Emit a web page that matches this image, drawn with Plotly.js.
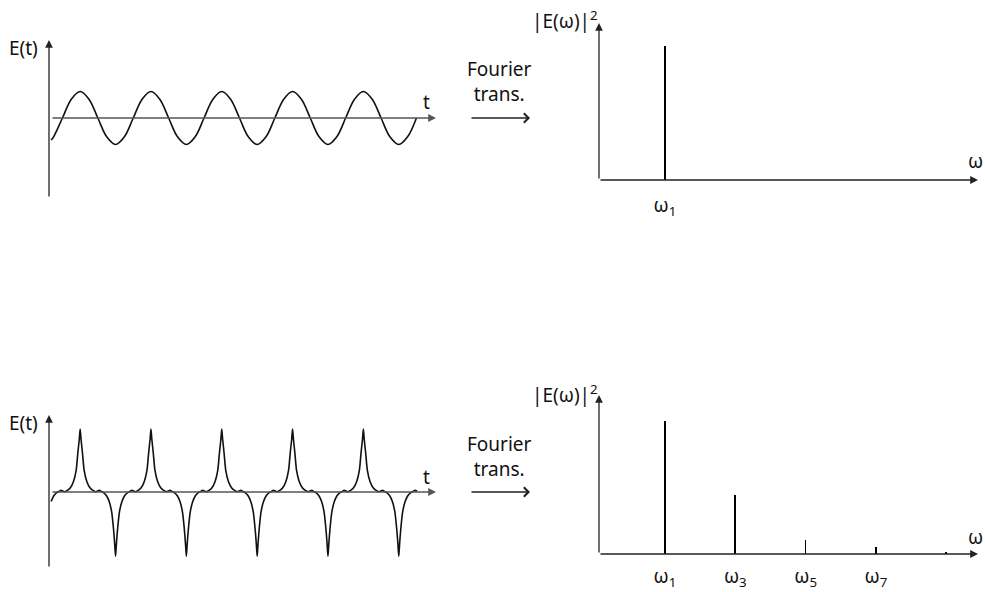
<!DOCTYPE html>
<html>
<head>
<meta charset="utf-8">
<script src="https://cdn.plot.ly/plotly-3.0.1.min.js"></script>
<style>html,body{margin:0;padding:0;background:#fff;}#chart{width:985px;height:592px;}</style>
</head>
<body>
<div id="chart"></div>
<script>
// ---------- DATA ----------
// time in periods of the fundamental, E in units of the pure-sine amplitude
const tSine = [0.03,0.065,0.19,0.315,0.44,0.565,0.69,0.815,0.94,
  1.065,1.19,1.315,1.44,1.565,1.69,1.815,1.94,
  2.065,2.19,2.315,2.44,2.565,2.69,2.815,2.94,
  3.065,3.19,3.315,3.44,3.565,3.69,3.815,3.94,
  4.065,4.19,4.315,4.44,4.565,4.69,4.815,4.94,
  5.065,5.19];
const eSine = [-0.83,-0.71,0,0.71,1,0.71,0,-0.71,-1,
  -0.71,0,0.71,1,0.71,0,-0.71,-1,
  -0.71,0,0.71,1,0.71,0,-0.71,-1,
  -0.71,0,0.71,1,0.71,0,-0.71,-1,
  -0.71,0,0.71,1,0.71,0,-0.71,-1,
  -0.71,0];

const tPulse = [
  0.03,0.07,0.11,0.14,0.17,0.22,0.27,0.299,0.346,0.384,0.407,0.428,0.44,0.452,0.473,0.496,0.534,0.581,0.61,0.66,0.71,0.74,0.77,0.81,0.85,0.885,0.91,0.928,0.94,
  0.952,0.97,0.995,1.03,1.07,1.11,1.14,1.17,1.22,1.27,1.299,1.346,1.384,1.407,1.428,1.44,1.452,1.473,1.496,1.534,1.581,1.61,1.66,1.71,1.74,1.77,1.81,1.85,1.885,1.91,1.928,1.94,
  1.952,1.97,1.995,2.03,2.07,2.11,2.14,2.17,2.22,2.27,2.299,2.346,2.384,2.407,2.428,2.44,2.452,2.473,2.496,2.534,2.581,2.61,2.66,2.71,2.74,2.77,2.81,2.85,2.885,2.91,2.928,2.94,
  2.952,2.97,2.995,3.03,3.07,3.11,3.14,3.17,3.22,3.27,3.299,3.346,3.384,3.407,3.428,3.44,3.452,3.473,3.496,3.534,3.581,3.61,3.66,3.71,3.74,3.77,3.81,3.85,3.885,3.91,3.928,3.94,
  3.952,3.97,3.995,4.03,4.07,4.11,4.14,4.17,4.22,4.27,4.299,4.346,4.384,4.407,4.428,4.44,4.452,4.473,4.496,4.534,4.581,4.61,4.66,4.71,4.74,4.77,4.81,4.85,4.885,4.91,4.928,4.94,
  4.952,4.97,4.995,5.03,5.07,5.11,5.14,5.17,5.2];
const ePulse = [
  -0.36,-0.13,-0.02,0.02,0.06,0.01,0.08,0.15,0.40,0.83,1.47,2.00,2.38,2.00,1.47,0.83,0.40,0.15,0.08,0.01,0.06,0.02,-0.02,-0.13,-0.36,-0.75,-1.36,-1.96,-2.42,
  -1.96,-1.36,-0.75,-0.36,-0.13,-0.02,0.02,0.06,0.01,0.08,0.15,0.40,0.83,1.47,2.00,2.38,2.00,1.47,0.83,0.40,0.15,0.08,0.01,0.06,0.02,-0.02,-0.13,-0.36,-0.75,-1.36,-1.96,-2.42,
  -1.96,-1.36,-0.75,-0.36,-0.13,-0.02,0.02,0.06,0.01,0.08,0.15,0.40,0.83,1.47,2.00,2.38,2.00,1.47,0.83,0.40,0.15,0.08,0.01,0.06,0.02,-0.02,-0.13,-0.36,-0.75,-1.36,-1.96,-2.42,
  -1.96,-1.36,-0.75,-0.36,-0.13,-0.02,0.02,0.06,0.01,0.08,0.15,0.40,0.83,1.47,2.00,2.38,2.00,1.47,0.83,0.40,0.15,0.08,0.01,0.06,0.02,-0.02,-0.13,-0.36,-0.75,-1.36,-1.96,-2.42,
  -1.96,-1.36,-0.75,-0.36,-0.13,-0.02,0.02,0.06,0.01,0.08,0.15,0.40,0.83,1.47,2.00,2.38,2.00,1.47,0.83,0.40,0.15,0.08,0.01,0.06,0.02,-0.02,-0.13,-0.36,-0.75,-1.36,-1.96,-2.42,
  -1.96,-1.36,-0.75,-0.36,-0.13,-0.02,0.02,0.06,0.03];

// spectra: harmonic number n (omega = n * omega_1), |E|^2 relative
const harmonicsTop = [1];
const powerTop = [1.0];
const harmonicsBottom = [1, 3, 5, 7, 9];
const powerBottom = [0.99, 0.44, 0.105, 0.05, 0.012];

const tickValsTop = [1];
const tickTextTop = ['ω<sub>1</sub>'];
const tickValsBottom = [1, 3, 5, 7];
const tickTextBottom = ['ω<sub>1</sub>', 'ω<sub>3</sub>', 'ω<sub>5</sub>', 'ω<sub>7</sub>'];

// ---------- LAYOUT ----------
const W = 985, H = 592;
const px = v => v / W;
const py = v => 1 - v / H;
const FONT = 'Noto Sans, Open Sans, sans-serif';
const txt = {family: FONT, size: 19, color: '#111'};

const tRange = [0, 5.466];
const wRange = [-0.878, 9.905];

const hidden = {visible: false, showgrid: false, zeroline: false, fixedrange: true};
function specX(anchor, vals, texts, standoff) {
  return {domain: [px(599), px(978)], range: wRange, anchor: anchor,
    showgrid: false, zeroline: false, showline: false, ticks: '',
    tickmode: 'array', tickvals: vals, ticktext: texts,
    tickfont: txt, ticklabelstandoff: standoff};
}

const traces = [
  {type: 'scatter', mode: 'lines', x: tSine, y: eSine, xaxis: 'x', yaxis: 'y',
   line: {color: '#111', width: 1.6, shape: 'spline', smoothing: 1}, hoverinfo: 'skip'},
  {type: 'bar', x: harmonicsTop, y: powerTop, xaxis: 'x2', yaxis: 'y2', width: 0.06,
   marker: {color: '#000', line: {width: 0}}, hoverinfo: 'skip'},
  {type: 'scatter', mode: 'lines', x: tPulse, y: ePulse, xaxis: 'x3', yaxis: 'y3',
   line: {color: '#111', width: 1.6, shape: 'spline', smoothing: 0.7}, hoverinfo: 'skip'},
  {type: 'bar', x: harmonicsBottom, y: powerBottom, xaxis: 'x4', yaxis: 'y4', width: 0.05,
   marker: {color: '#000', line: {width: 0}}, hoverinfo: 'skip'}
];

function axArrow(xr, yr, x0, y0, x1, y1, color) {
  return {xref: xr, yref: yr, axref: xr, ayref: yr, x: x1, y: y1, ax: x0, ay: y0,
    text: '', showarrow: true, arrowhead: 2, arrowsize: 1.2, arrowwidth: 1.3,
    arrowcolor: color};
}
function label(text, x, y, xanchor) {
  return {xref: 'paper', yref: 'paper', x: px(x), y: py(y), text: text,
    showarrow: false, xanchor: xanchor || 'center', yanchor: 'middle', font: txt};
}
function ftArrow(y) {
  return {xref: 'paper', yref: 'paper', x: px(530), y: py(y), ax: -60, ay: 0,
    text: '', showarrow: true, arrowhead: 4, arrowsize: 1.3, arrowwidth: 1.4,
    arrowcolor: '#222'};
}

const annotations = [
  // axes with arrowheads
  axArrow('x', 'y', 0, -3.019, 0, 2.943, '#222'),
  axArrow('x', 'y', 0.028, 0, 5.466, 0, '#555'),
  axArrow('x2', 'y2', -0.878, 0, -0.878, 1.172, '#222'),
  axArrow('x2', 'y2', -0.878, 0, 9.905, 0, '#222'),
  axArrow('x3', 'y3', 0, -2.868, 0, 2.906, '#222'),
  axArrow('x3', 'y3', 0.028, 0, 5.466, 0, '#555'),
  axArrow('x4', 'y4', -0.878, 0, -0.878, 1.187, '#222'),
  axArrow('x4', 'y4', -0.878, 0, 9.905, 0, '#222'),
  // labels
  label('E(t)', 40, 48, 'right'),
  label('E(t)', 40, 423, 'right'),
  label('t', 426, 102),
  label('t', 426, 477),
  label('|E(ω)|<sup>2</sup>', 600, 20, 'right'),
  label('|E(ω)|<sup>2</sup>', 600, 394, 'right'),
  label('ω', 975, 161),
  label('ω', 975, 537),
  label('Fourier<br>trans.', 500, 81),
  label('Fourier<br>trans.', 500, 456),
  ftArrow(118),
  ftArrow(492)
];

const layout = {
  width: W, height: H,
  margin: {l: 0, r: 0, t: 0, b: 0, pad: 0},
  paper_bgcolor: '#fff', plot_bgcolor: 'rgba(0,0,0,0)',
  showlegend: false, bargap: 0,
  font: txt,
  xaxis: Object.assign({}, hidden, {domain: [px(49), px(436)], range: tRange, anchor: 'y'}),
  yaxis: Object.assign({}, hidden, {domain: [py(198), py(40)], range: [-3.019, 2.943], anchor: 'x'}),
  xaxis2: specX('y2', tickValsTop, tickTextTop, 12),
  yaxis2: Object.assign({}, hidden, {domain: [py(180), py(23)], range: [0, 1.172], anchor: 'x2'}),
  xaxis3: Object.assign({}, hidden, {domain: [px(49), px(436)], range: tRange, anchor: 'y3'}),
  yaxis3: Object.assign({}, hidden, {domain: [py(568), py(415)], range: [-2.868, 2.906], anchor: 'x3'}),
  xaxis4: specX('y4', tickValsBottom, tickTextBottom, 9),
  yaxis4: Object.assign({}, hidden, {domain: [py(554), py(395)], range: [0, 1.187], anchor: 'x4'}),
  annotations: annotations
};

Plotly.newPlot('chart', traces, layout, {staticPlot: true, displayModeBar: false});
</script>
</body>
</html>
